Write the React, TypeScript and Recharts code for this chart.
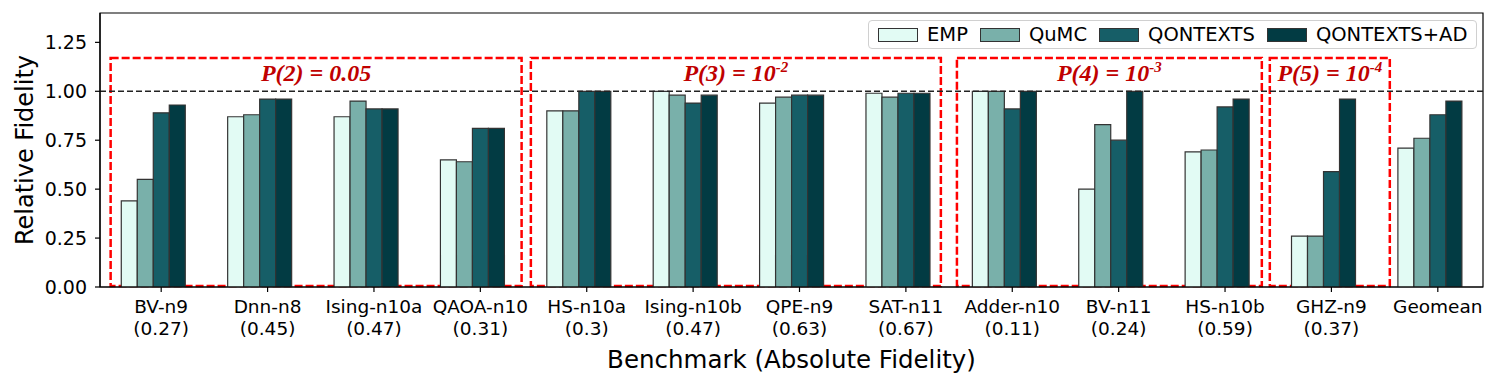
import { BarChart, Bar, XAxis, YAxis, ReferenceLine, ReferenceArea } from "recharts"

const benchmarks = ["BV-n9", "Dnn-n8", "Ising-n10a", "QAOA-n10", "HS-n10a", "Ising-n10b", "QPE-n9", "SAT-n11", "Adder-n10", "BV-n11", "HS-n10b", "GHZ-n9", "Geomean"]
const absFidelity = ["0.27", "0.45", "0.47", "0.31", "0.3", "0.47", "0.63", "0.67", "0.11", "0.24", "0.59", "0.37", ""]

const emp = [0.44, 0.87, 0.87, 0.65, 0.90, 1.00, 0.94, 0.99, 1.00, 0.50, 0.69, 0.26, 0.71]
const qumc = [0.55, 0.88, 0.95, 0.64, 0.90, 0.98, 0.97, 0.97, 1.00, 0.83, 0.70, 0.26, 0.76]
const qontexts = [0.89, 0.96, 0.91, 0.81, 1.00, 0.94, 0.98, 0.99, 0.91, 0.75, 0.92, 0.59, 0.88]
const qontextsAd = [0.93, 0.96, 0.91, 0.81, 1.00, 0.98, 0.98, 0.99, 1.00, 1.00, 0.96, 0.96, 0.95]

const yTicks = [0, 0.25, 0.5, 0.75, 1.0, 1.25]

// red dashed groups
const regionStart = ["BV-n9", "HS-n10a", "Adder-n10", "GHZ-n9"]
const regionEnd = ["QAOA-n10", "SAT-n11", "HS-n10b", "GHZ-n9"]
const regionText = ["P(2) = 0.05", "P(3) = 10", "P(4) = 10", "P(5) = 10"]
const regionExp = ["", "-2", "-3", "-4"]

// the boxes were placed by hand, so their edges sit a bit in/out of the category bands
const REGION_INSET = [
  [0.1, 0.037],
  [0.05, 0.096],
  [0.055, 0.079],
  [-0.004, -0.124],
]

const SERIES = [
  { key: "emp", name: "EMP", color: "#e2fbf4" },
  { key: "qumc", name: "QuMC", color: "#79b0aa" },
  { key: "qontexts", name: "QONTEXTS", color: "#165e67" },
  { key: "qontextsAd", name: "QONTEXTS+AD", color: "#023b43" },
]

const data = benchmarks.map((name, i) => ({
  name,
  emp: emp[i],
  qumc: qumc[i],
  qontexts: qontexts[i],
  qontextsAd: qontextsAd[i],
}))

const FONT = "'DejaVu Sans', sans-serif"
const TICK_SHIFT = 8

const XTick = ({ x, y, payload, index }: any) => {
  const cx = x + TICK_SHIFT
  const sub = absFidelity[index]
  return (
    <g>
      <line x1={cx} x2={cx} y1={y - 5} y2={y} stroke="#000" strokeWidth={1.2} />
      <text x={cx} y={y + 21} textAnchor="middle" fontSize={18.5} fontFamily={FONT} fill="#000">
        {payload.value}
      </text>
      {sub && (
        <text x={cx} y={y + 42.5} textAnchor="middle" fontSize={18.5} fontFamily={FONT} fill="#000">
          ({sub})
        </text>
      )}
    </g>
  )
}

const regionShape = (i: number) => (p: any) => {
  const span = benchmarks.indexOf(regionEnd[i]) - benchmarks.indexOf(regionStart[i]) + 1
  const band = p.width / span
  const left = p.x + REGION_INSET[i][0] * band
  const right = p.x + p.width - REGION_INSET[i][1] * band
  return (
    <g>
      <rect
        x={left}
        y={p.y}
        width={right - left}
        height={p.height}
        fill="none"
        stroke="#ff0000"
        strokeWidth={2.5}
        strokeDasharray="8 3"
      />
      <text
        x={(left + right) / 2}
        y={p.y + 23}
        textAnchor="middle"
        fontFamily="'Liberation Serif', 'Times New Roman', serif"
        fontWeight="bold"
        fontStyle="italic"
        fontSize={24}
        fill="#c00000"
      >
        {regionText[i]}
        {regionExp[i] && (
          <tspan dy={-9} fontSize={15}>{regionExp[i]}</tspan>
        )}
      </text>
    </g>
  )
}

const ChartLegend = () => (
  <div
    style={{
      position: "absolute",
      left: 868,
      top: 20,
      width: 609,
      height: 29,
      boxSizing: "border-box",
      border: "1px solid #d0d0d0",
      borderRadius: 4,
      background: "rgba(255,255,255,0.8)",
      display: "flex",
      alignItems: "center",
      paddingLeft: 9,
      fontFamily: FONT,
      fontSize: 19.5,
      color: "#000",
      whiteSpace: "nowrap",
    }}
  >
    {SERIES.map((s, i) => (
      <div key={s.key} style={{ display: "flex", alignItems: "center", marginLeft: i === 0 ? 0 : 12 }}>
        <span
          style={{
            display: "inline-block",
            width: 40,
            height: 14,
            boxSizing: "border-box",
            background: s.color,
            border: "1.2px solid #333",
            marginRight: 9,
          }}
        />
        <span>{s.name}</span>
      </div>
    ))}
  </div>
)

export default function App() {
  return (
    <div style={{ position: "absolute", left: 0, top: 0, width: 1499, height: 384, background: "#fff" }}>
      <BarChart
        width={1499}
        height={384}
        data={data}
        margin={{ top: 13, right: 16, bottom: 0, left: 40 }}
        barCategoryGap="20%"
        barGap={0}
      >
        <XAxis
          dataKey="name"
          interval={0}
          height={97}
          tickSize={5}
          tickMargin={0}
          tickLine={false}
          axisLine={{ stroke: "#000", strokeWidth: 1.2 }}
          tick={<XTick />}
          label={{
            content: ({ viewBox }: any) => (
              <text
                x={viewBox.x + viewBox.width / 2}
                y={368}
                textAnchor="middle"
                fontSize={24.5}
                fontFamily={FONT}
                fill="#000"
              >
                Benchmark (Absolute Fidelity)
              </text>
            ),
          }}
        />
        <YAxis
          domain={[0, 1.4]}
          ticks={yTicks}
          width={60}
          tickSize={5}
          tickMargin={8}
          tickFormatter={(v: number) => v.toFixed(2)}
          tick={{ fontSize: 19, fontFamily: FONT, fill: "#000" }}
          tickLine={{ stroke: "#000", strokeWidth: 1.2 }}
          axisLine={{ stroke: "#000", strokeWidth: 1.2 }}
          allowDataOverflow
          label={{
            content: ({ viewBox }: any) => {
              const cy = viewBox.y + viewBox.height / 2
              return (
                <text
                  x={32.5}
                  y={cy}
                  transform={`rotate(-90, 32.5, ${cy})`}
                  textAnchor="middle"
                  fontSize={24}
                  fontFamily={FONT}
                  fill="#000"
                >
                  Relative Fidelity
                </text>
              )
            },
          }}
        />
        {SERIES.map((s) => (
          <Bar
            key={s.key}
            dataKey={s.key}
            name={s.name}
            fill={s.color}
            stroke="#333"
            strokeWidth={1.2}
            isAnimationActive={false}
          />
        ))}
        <ReferenceLine y={1} stroke="#222" strokeWidth={1.5} strokeDasharray="6 3" />
        {regionStart.map((start, i) => (
          <ReferenceArea
            key={start}
            x1={start}
            x2={regionEnd[i]}
            y1={0.005}
            y2={1.17}
            shape={regionShape(i)}
          />
        ))}
        {/* axes frame (top and right spines) */}
        <ReferenceArea y1={0} y2={1.4} fill="none" stroke="#000" strokeWidth={1.2} />
      </BarChart>
      <ChartLegend />
    </div>
  )
}
